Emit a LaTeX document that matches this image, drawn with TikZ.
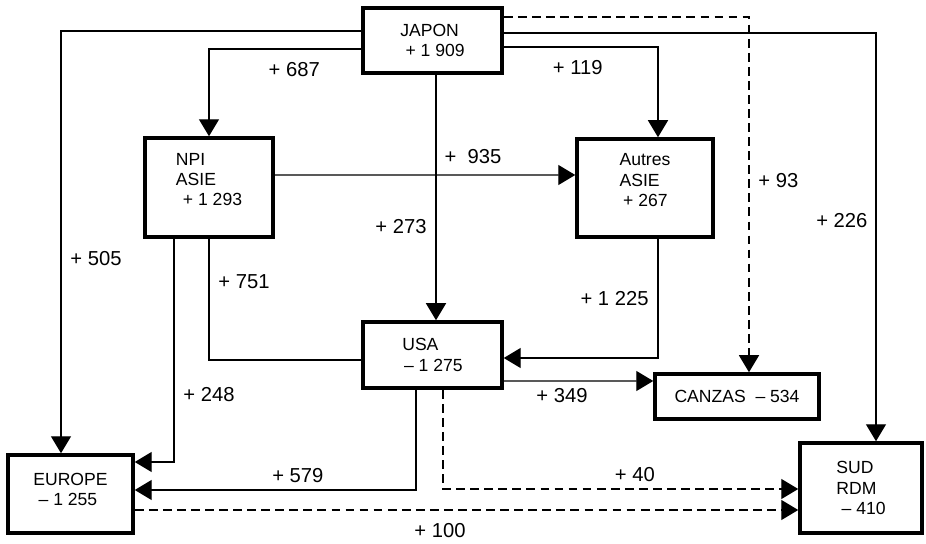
\documentclass[tikz,border=0pt]{standalone}
\usepackage{fontspec}
\setmainfont{Liberation Sans}
\usetikzlibrary{arrows.meta,calc}

\begin{document}
\begin{tikzpicture}[
    x=0.02cm, y=0.02cm,
    font=\fontsize{10}{11.5}\selectfont,
    zone/.style={rectangle, draw, line width=2pt, align=left, inner sep=2pt},
    flow/.style={-{Triangle[length=0.34cm,width=0.4cm]}, line width=0.75pt},
    link/.style={line width=0.75pt},
    broken/.style={dash pattern=on 5pt off 3pt},
    trade/.style={font=\fontsize{11.5}{13}\selectfont, inner sep=1pt},
  ]
    \useasboundingbox (0,0) rectangle (926,544);

    % regions
    \node[zone, minimum width=2.78cm, minimum height=1.30cm] (jap) at (432.5,503.5) {JAPON\\\hspace*{3pt}+ 1 909};
    \node[zone, minimum width=2.56cm, minimum height=1.98cm, text depth=9pt] (npi) at (209,356.5) {NPI\\ASIE\\\hspace*{4pt}+ 1 293};
    \node[zone, minimum width=2.72cm, minimum height=1.96cm, text depth=9pt] (aut) at (645,356) {Autres\\ASIE\\\hspace*{2pt}+ 267};
    \node[zone, minimum width=2.78cm, minimum height=1.32cm] (usa) at (432.5,189) {USA\\\hspace*{1pt}– 1 275};
    \node[zone, minimum width=3.28cm, minimum height=0.90cm] (can) at (737,147.5) {CANZAS \ – 534};
    \node[zone, minimum width=2.50cm, minimum height=1.56cm, text depth=5pt] (eur) at (70.5,50) {EUROPE\\\hspace*{3pt}– 1 255};
    \node[zone, minimum width=2.44cm, minimum height=1.80cm] (sud) at (861,56) {SUD\\RDM\\\hspace*{3pt}– 410};

    % flows out of Japan
    \draw[flow] ($(jap.west)+(0,9.5)$) -| node[trade, pos=0.77, right=4pt]{+ 505} ($(eur.north)+(-9.5,0)$);
    \draw[flow] ($(jap.west)+(0,-8.5)$) -| node[trade, pos=0.22, below=6pt]{+ 687} (npi.north);
    \draw[flow] ($(jap.south)+(3.5,0)$) -- node[trade, pos=0.62, left=4pt]{+ 273} ($(usa.north)+(3.5,0)$);
    \draw[flow] ($(jap.east)+(0,-6.5)$) -| node[trade, pos=0.24, below=6pt]{+ 119} ($(aut.north)+(13,0)$);
    \draw[flow, broken] ($(jap.east)+(0,23.5)$) -| node[trade, pos=0.73, right=4pt]{+ 93} ($(can.north)+(12,0)$);
    \draw[flow] ($(jap.east)+(0,7.5)$) -| node[trade, pos=0.73, left=3.5pt]{+ 226} ($(sud.north)+(15,0)$);

    % flows out of Asia
    \draw[flow] ($(npi.east)+(0,12.5)$) -- node[trade, pos=0.66, above=5pt]{+\ \ 935} ($(aut.west)+(0,13)$);
    \draw[link] (npi.south) |- node[trade, pos=0.175, right=4pt]{+ 751} ($(usa.west)+(0,-5)$);
    \draw[flow] ($(npi.south)+(-35,0)$) |- node[trade, pos=0.35, right=4pt]{+ 248} ($(eur.east)+(0,32)$);
    \draw[flow] ($(aut.south)+(13,0)$) |- node[trade, pos=0.25, left=4pt]{+ 1 225} ($(usa.east)+(0,-3)$);

    % flows out of the USA
    \draw[flow] ($(usa.east)+(0,-26)$) -- node[trade, pos=0.39, below=3pt]{+ 349} ($(can.west)+(0,15.5)$);
    \draw[flow] ($(usa.south)+(-16.5,0)$) |- node[trade, pos=0.71, above=3pt]{+ 579} ($(eur.east)+(0,4)$);
    \draw[flow, broken] ($(usa.south)+(10.5,0)$) |- node[trade, pos=0.77, above=3pt]{+ 40} ($(sud.west)+(0,-1)$);

    % Europe
    \draw[flow, broken] ($(eur.east)+(0,-16)$) -- node[trade, pos=0.46, below=6pt]{+ 100} ($(sud.west)+(0,-22)$);
  \end{tikzpicture}
\end{document}
